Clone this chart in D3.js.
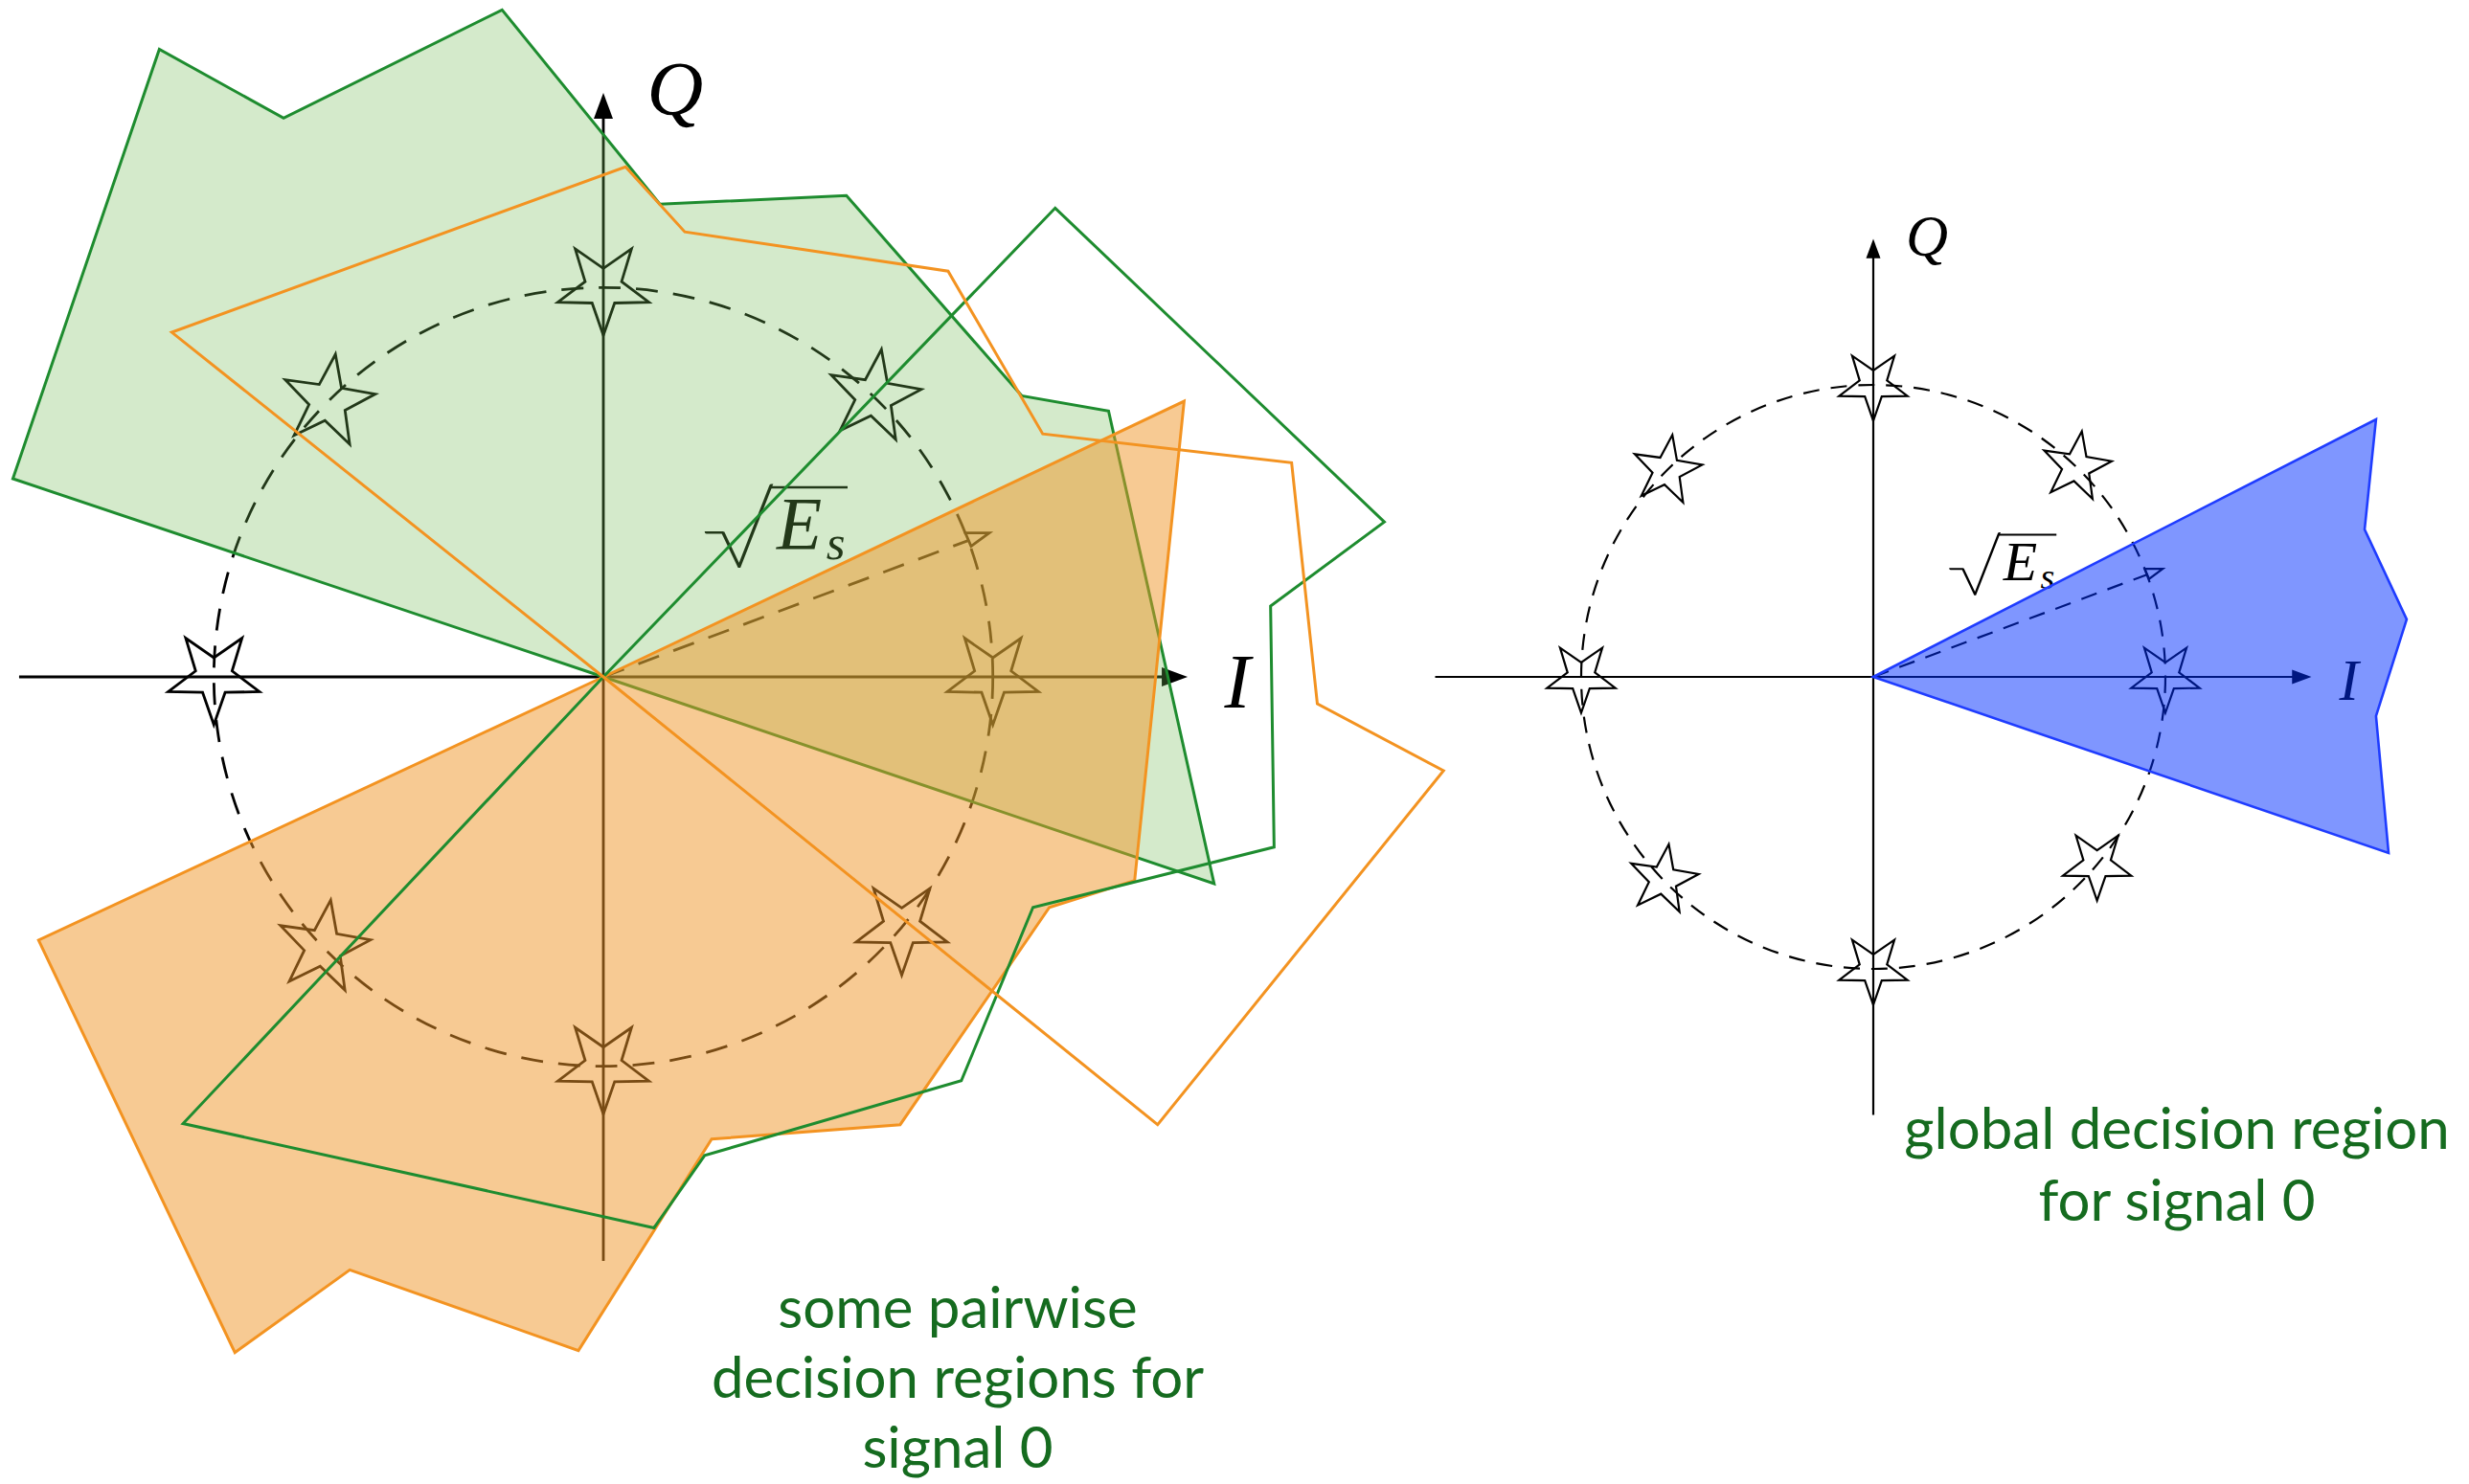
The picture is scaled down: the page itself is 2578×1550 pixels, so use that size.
<!DOCTYPE html>
<html>
<head>
<meta charset="utf-8">
<script src="https://cdn.jsdelivr.net/npm/d3@7"></script>
<style>
  html, body { margin: 0; padding: 0; background: #fff; }
  svg { display: block; }
</style>
</head>
<body>
<svg id="fig" width="2578" height="1550"></svg>
<script>
// ---------- 8-PSK constellation, unit circle radius = sqrt(Es) ----------
const signalAngles = [0, 46, 90, 135, 180, 224, 270, 320];   // degrees
const starTurns    = [180, 9, 180, 9, 180, 9, 180, 180];     // star orientation (0 = point up), degrees
const axisExtent   = 1.5;                                     // axes run from -1.5 to 1.5
const radiusAngle  = 20.5;                                    // direction of the sqrt(Es) radius, degrees

// ---------- decision regions, vertices as (I, Q) ----------
const greenRegion = [[0,0],[-1.516,0.509],[-1.140,1.612],[-0.821,1.435],[-0.260,1.713],
  [0.145,1.214],[0.624,1.236],[1.074,0.722],[1.297,0.683],[1.568,-0.531]];
const orangeRegion = [[0,0],[1.491,0.708],[1.364,-0.523],[1.145,-0.592],[0.762,-1.150],
  [0.278,-1.187],[-0.064,-1.730],[-0.651,-1.523],[-0.946,-1.735],[-1.450,-0.676]];
const greenOutline = [[0,0],[1.160,1.204],[2.005,0.398],[1.713,0.182],[1.722,-0.437],
  [1.103,-0.592],[0.919,-1.037],[0.260,-1.229],[0.130,-1.415],[-1.079,-1.147]];
const orangeOutline = [[0,0],[-1.108,0.885],[0.057,1.310],[0.209,1.143],[0.885,1.042],
  [1.128,0.624],[1.767,0.550],[1.833,-0.069],[2.157,-0.241],[1.423,-1.150]];
const globalRegion = [[0,0],[1.721,0.882],[1.682,0.505],[1.826,0.197],[1.721,-0.134],[1.764,-0.603]];

const leftCaption  = ["some pairwise", "decision regions for", "signal 0"];
const rightCaption = ["global decision region", "for signal 0"];

// ---------- drawing ----------
const svg = d3.select("#fig");
svg.append("rect").attr("width", 2578).attr("height", 1550).attr("fill", "#fff");

const rad = d => d * Math.PI / 180;
const starGen = d3.lineRadial()
  .angle(d => d[0]).radius(d => d[1]).curve(d3.curveLinearClosed);

function panel(cfg) {
  const { cx, cy, k, sw, dash } = cfg;
  const s = k / 406.7;                     // size factor relative to the large panel
  const x = d3.scaleLinear().domain([-axisExtent, axisExtent])
    .range([cx - axisExtent * k, cx + axisExtent * k]);
  const y = d3.scaleLinear().domain([-axisExtent, axisExtent])
    .range([cy + axisExtent * k, cy - axisExtent * k]);
  const poly = d3.line().x(d => x(d[0])).y(d => y(d[1]));

  const g = svg.append("g");
  const base = g.append("g").attr("fill", "none").attr("stroke", "#000").attr("stroke-width", sw);

  // dashed signal circle
  base.append("circle")
    .attr("cx", x(0)).attr("cy", y(0)).attr("r", x(1) - x(0))
    .attr("stroke-dasharray", dash);

  // axes with filled arrow heads
  const aLen = 27 * s, aW = 10 * s;
  base.append("line")
    .attr("x1", x(-axisExtent)).attr("y1", y(0))
    .attr("x2", x(axisExtent) - aLen + 2).attr("y2", y(0));
  base.append("line")
    .attr("x1", x(0)).attr("y1", y(-axisExtent))
    .attr("x2", x(0)).attr("y2", y(axisExtent) + aLen - 2);
  base.append("path")
    .attr("fill", "#000").attr("stroke", "none")
    .attr("d", `M${x(axisExtent)},${y(0)} L${x(axisExtent) - aLen},${y(0) - aW} L${x(axisExtent) - aLen},${y(0) + aW}Z`);
  base.append("path")
    .attr("fill", "#000").attr("stroke", "none")
    .attr("d", `M${x(0)},${y(axisExtent)} L${x(0) - aW},${y(axisExtent) + aLen} L${x(0) + aW},${y(axisExtent) + aLen}Z`);

  // constellation stars
  const R = 0.123 * k;
  signalAngles.forEach((a, i) => {
    const pts = d3.range(10).map(j => [rad(starTurns[i] + j * 36), j % 2 ? R * 0.4 : R]);
    base.append("path")
      .attr("stroke-linejoin", "miter")
      .attr("transform", `translate(${x(Math.cos(rad(a)))},${y(Math.sin(rad(a)))})`)
      .attr("d", starGen(pts));
  });

  // sqrt(Es) radius with open arrow tip
  const px = x(Math.cos(rad(radiusAngle))), py = y(Math.sin(rad(radiusAngle)));
  base.append("line")
    .attr("x1", x(0)).attr("y1", y(0)).attr("x2", px).attr("y2", py)
    .attr("stroke-dasharray", dash);
  base.append("path")
    .attr("stroke-linejoin", "miter")
    .attr("d", `M${px - 3 * s},${py - 8 * s} L${px + 22 * s},${py - 8 * s} L${px + 3 * s},${py + 6 * s}Z`);

  // axis labels
  const math = g.append("g").attr("font-family", "'Liberation Serif', 'DejaVu Serif', serif")
    .attr("font-style", "italic").attr("fill", "#000");
  math.append("text").attr("x", x(0.184)).attr("y", y(1.443))
    .attr("text-anchor", "middle").attr("font-size", 0.2 * k).text("Q");
  math.append("text").attr("x", x(1.628)).attr("y", y(-0.079))
    .attr("text-anchor", "middle").attr("font-size", 0.2 * k).text("I");

  // sqrt(Es): radical sign, vinculum, E with subscript s
  math.append("text")
    .attr("transform", `translate(${x(0.252)},${y(0.282)}) scale(1.2,1)`)
    .attr("font-family", "Lato, 'DejaVu Sans', sans-serif")
    .attr("font-style", "normal").attr("font-weight", 200)
    .attr("stroke", "#000").attr("stroke-width", 1.7 * s)
    .attr("font-size", 0.245 * k).text("\u221A");
  base.append("line").attr("stroke-width", sw * 0.9)
    .attr("x1", x(0.430)).attr("y1", y(0.487)).attr("x2", x(0.627)).attr("y2", y(0.487));
  math.append("text").attr("x", x(0.445)).attr("y", y(0.330))
    .attr("font-size", 0.19 * k).text("E");
  math.append("text").attr("x", x(0.572)).attr("y", y(0.302))
    .attr("font-size", 0.125 * k).text("s");

  return { g, x, y, poly };
}

// ----- left: pairwise regions -----
const L = panel({ cx: 630, cy: 707, k: 406.7, sw: 2.8, dash: "23 16" });
L.g.append("path").attr("d", L.poly(greenRegion) + "Z")
  .attr("fill", "rgb(112,185,82)").attr("fill-opacity", 0.3)
  .attr("stroke", "#1e8c2f").attr("stroke-width", 3).attr("stroke-linejoin", "miter");
L.g.append("path").attr("d", L.poly(orangeRegion) + "Z")
  .attr("fill", "rgb(240,150,40)").attr("fill-opacity", 0.5)
  .attr("stroke", "#f39321").attr("stroke-width", 3).attr("stroke-linejoin", "miter");
L.g.append("path").attr("d", L.poly(greenOutline) + "Z")
  .attr("fill", "none").attr("stroke", "#1e8c2f").attr("stroke-width", 3).attr("stroke-linejoin", "miter");
L.g.append("path").attr("d", L.poly(orangeOutline) + "Z")
  .attr("fill", "none").attr("stroke", "#f39321").attr("stroke-width", 3).attr("stroke-linejoin", "miter");

// ----- right: global region -----
const Rp = panel({ cx: 1956, cy: 707, k: 305, sw: 2.2, dash: "17 12" });
Rp.g.append("path").attr("d", Rp.poly(globalRegion) + "Z")
  .attr("fill", "rgb(0,45,255)").attr("fill-opacity", 0.5)
  .attr("stroke", "#1f3cff").attr("stroke-width", 2.6).attr("stroke-linejoin", "miter");

// ----- captions -----
const cap = svg.append("g").attr("font-family", "Lato, 'Open Sans', sans-serif")
  .attr("font-size", 60).attr("fill", "#156b1f").attr("text-anchor", "middle");
leftCaption.forEach((t, i) => cap.append("text").attr("x", 1000).attr("y", 1387 + i * 73).text(t));
rightCaption.forEach((t, i) => cap.append("text").attr("x", 2273).attr("y", 1200 + i * 75).text(t));
</script>
</body>
</html>
